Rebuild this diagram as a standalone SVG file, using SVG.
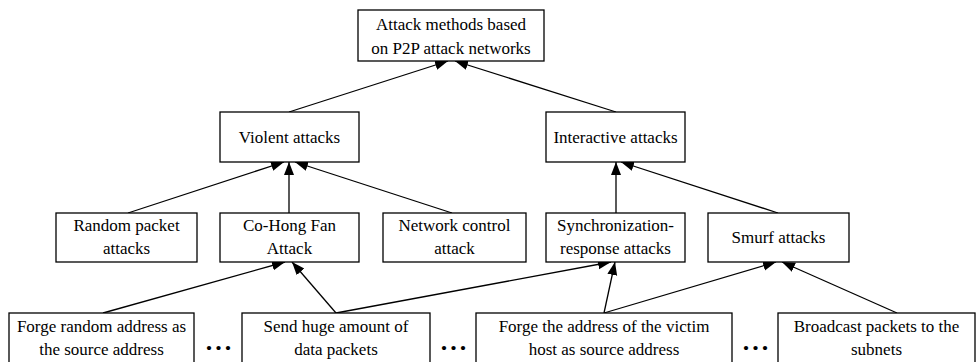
<svg xmlns="http://www.w3.org/2000/svg" width="976" height="362" viewBox="0 0 976 362">
  <defs>
    <marker id="arrow" markerUnits="userSpaceOnUse" markerWidth="14" markerHeight="12" viewBox="0 0 14 12" refX="13" refY="5" orient="auto">
      <path d="M0,0 L13,5 L0,10 Z" fill="#000"/>
    </marker>
  </defs>
  <style>
    .box { fill: #fff; stroke: #000; stroke-width: 1.3; }
    .edge { fill: none; stroke: #000; stroke-width: 1.3; marker-end: url(#arrow); }
  </style>
  <rect width="976" height="362" fill="#fff"/>

  <!-- connectors -->
  <g id="edges">
    <line class="edge" x1="289" y1="112" x2="448" y2="61"/>
    <line class="edge" x1="616" y1="112" x2="455" y2="61"/>
    <line class="edge" x1="128" y1="213" x2="284" y2="162"/>
    <line class="edge" x1="289" y1="213" x2="289" y2="162"/>
    <line class="edge" x1="452" y1="213" x2="295" y2="162"/>
    <line class="edge" x1="616" y1="213" x2="616" y2="162"/>
    <line class="edge" x1="778" y1="213" x2="621" y2="162"/>
    <line class="edge" x1="103" y1="313" x2="285" y2="262"/>
    <line class="edge" x1="336" y1="313" x2="292" y2="262"/>
    <line class="edge" x1="336" y1="313" x2="611" y2="262"/>
    <line class="edge" x1="604" y1="313" x2="615" y2="262"/>
    <line class="edge" x1="604" y1="313" x2="776" y2="262"/>
    <line class="edge" x1="897" y1="313" x2="782" y2="262"/>
  </g>

  <!-- nodes: white boxes with centred serif labels -->
  <g id="nodes" font-family="Liberation Serif" font-size="17" text-anchor="middle" fill="#000">
    <g id="root">
      <rect class="box" x="358" y="10" width="186" height="51"/>
      <text x="451" y="30" font-family="Liberation Serif">Attack methods based</text>
      <text x="451" y="54" font-family="Liberation Serif">on P2P attack networks</text>
    </g>

    <g id="violent">
      <rect class="box" x="220" y="112" width="139" height="50"/>
      <text x="289.5" y="143" font-family="Liberation Serif">Violent attacks</text>
    </g>
    <g id="interactive">
      <rect class="box" x="546" y="112" width="139" height="50"/>
      <text x="615.5" y="143" font-family="Liberation Serif">Interactive attacks</text>
    </g>

    <g id="random-packet">
      <rect class="box" x="56" y="213" width="141" height="49"/>
      <text x="126.5" y="231" font-family="Liberation Serif">Random packet</text>
      <text x="126.5" y="254" font-family="Liberation Serif">attacks</text>
    </g>
    <g id="co-hong-fan">
      <rect class="box" x="220" y="213" width="139" height="49"/>
      <text x="289.5" y="231" font-family="Liberation Serif">Co-Hong Fan</text>
      <text x="289.5" y="254" font-family="Liberation Serif">Attack</text>
    </g>
    <g id="network-control">
      <rect class="box" x="383" y="213" width="143" height="49"/>
      <text x="454.5" y="231" font-family="Liberation Serif">Network control</text>
      <text x="454.5" y="254" font-family="Liberation Serif">attack</text>
    </g>
    <g id="sync-response">
      <rect class="box" x="546" y="213" width="139" height="49"/>
      <text x="615.5" y="231" font-family="Liberation Serif">Synchronization-</text>
      <text x="615.5" y="254" font-family="Liberation Serif">response attacks</text>
    </g>
    <g id="smurf">
      <rect class="box" x="708" y="213" width="141" height="49"/>
      <text x="778.5" y="243" font-family="Liberation Serif">Smurf attacks</text>
    </g>

    <g id="forge-random">
      <rect class="box" x="9" y="313" width="185" height="60"/>
      <text x="101.5" y="332" font-family="Liberation Serif">Forge random address as</text>
      <text x="101.5" y="355" font-family="Liberation Serif">the source address</text>
    </g>
    <g id="send-huge">
      <rect class="box" x="242" y="313" width="188" height="60"/>
      <text x="336" y="332" font-family="Liberation Serif">Send huge amount of</text>
      <text x="336" y="355" font-family="Liberation Serif">data packets</text>
    </g>
    <g id="forge-victim">
      <rect class="box" x="476" y="313" width="256" height="60"/>
      <text x="604" y="332" font-family="Liberation Serif">Forge the address of the victim</text>
      <text x="604" y="355" font-family="Liberation Serif">host as source address</text>
    </g>
    <g id="broadcast">
      <rect class="box" x="778" y="313" width="197" height="60"/>
      <text x="876.5" y="332" font-family="Liberation Serif">Broadcast packets to the</text>
      <text x="876.5" y="355" font-family="Liberation Serif">subnets</text>
    </g>
  </g>

  <!-- ellipses between bottom nodes -->
  <g id="ellipses" font-family="Liberation Serif" font-size="26" font-weight="bold" text-anchor="middle" fill="#000">
    <text x="220" y="350" letter-spacing="3" font-family="Liberation Serif">...</text>
    <text x="455" y="350" letter-spacing="3" font-family="Liberation Serif">...</text>
    <text x="757" y="350" letter-spacing="3" font-family="Liberation Serif">...</text>
  </g>
</svg>
